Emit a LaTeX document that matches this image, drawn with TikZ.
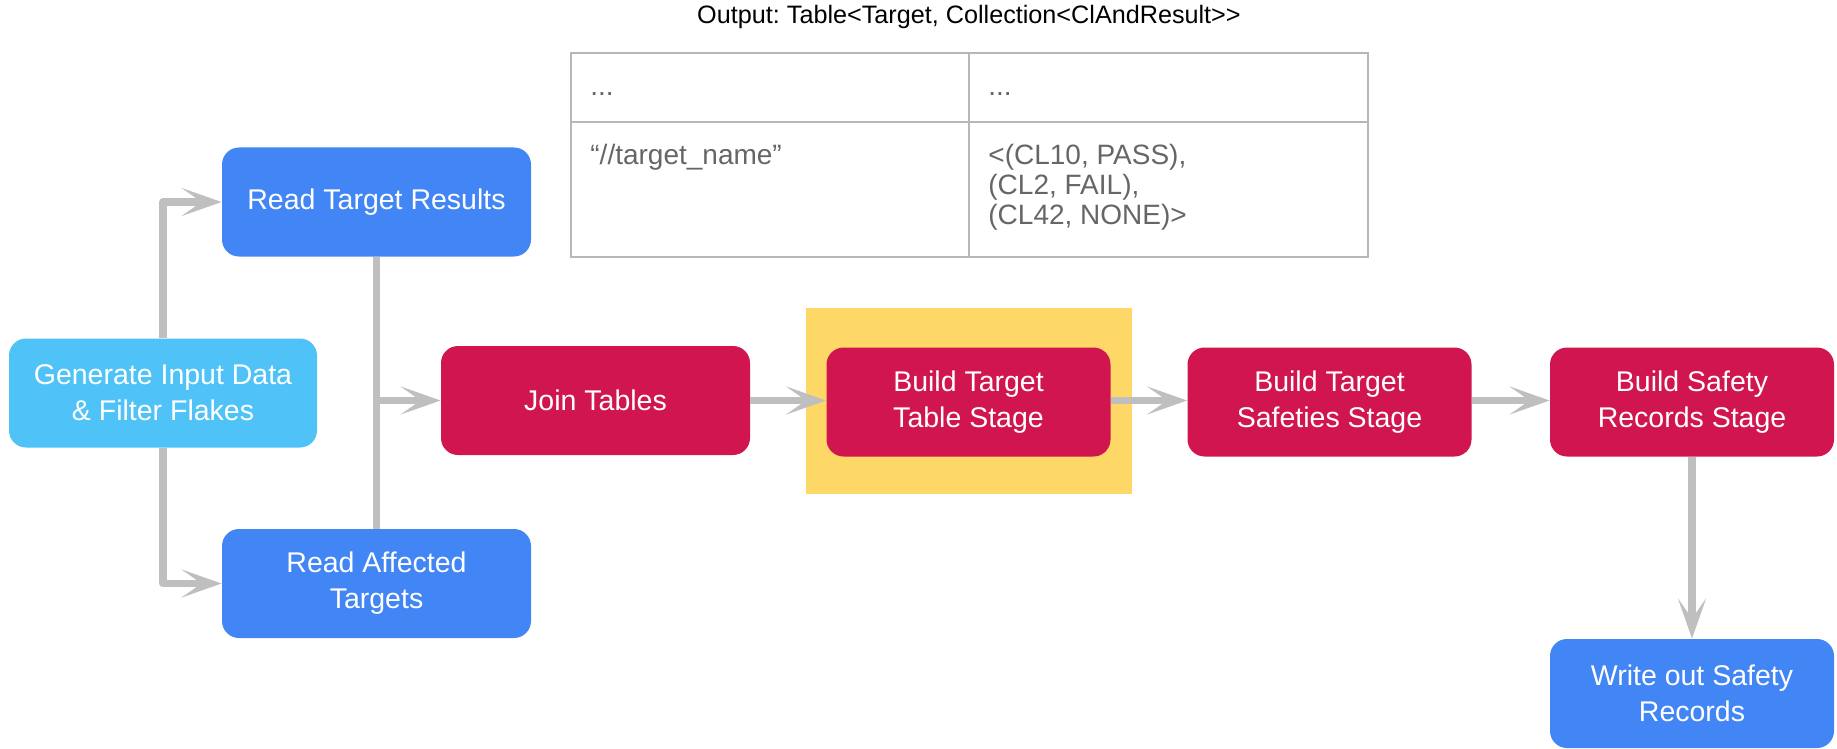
\documentclass[tikz,border=0pt]{standalone}
\usepackage{fontspec}
\setmainfont{Liberation Sans}
\usepackage{xcolor}
\usetikzlibrary{arrows.meta, positioning}

\definecolor{stageRed}{HTML}{D0154F}
\definecolor{ioBlue}{HTML}{4285F4}
\definecolor{genBlue}{HTML}{4FC3F7}
\definecolor{hiYellow}{HTML}{FDD866}
\definecolor{flowGrey}{HTML}{BFBFBF}
\definecolor{cellGrey}{HTML}{666666}
\definecolor{ruleGrey}{HTML}{B7B7B7}

\begin{document}
\begin{tikzpicture}[x=0.5pt, y=-0.5pt,
    box/.style={rounded corners=8.5pt, text=white, align=center, font=\fontsize{14.25}{18}\selectfont, minimum height=54.5pt, inner sep=0pt},
    stage/.style={box, fill=stageRed, minimum width=142pt},
    io/.style={box, fill=ioBlue, minimum width=154.5pt},
    pipe/.style={draw=flowGrey, line width=3.75pt, line join=round},
    flow/.style={pipe, -{Stealth[length=20pt, width=14pt, inset=10pt]}},
    cell/.style={anchor=base west, text=cellGrey, font=\fontsize{14}{15}\selectfont, inner sep=0pt}]
    \useasboundingbox (0,0) rectangle (1837,749);

    % Input side
    \node[box, fill=genBlue, minimum width=154pt] (gen) at (163,393) {Generate Input Data\\\& Filter Flakes};
    \node[io] (rtr) at (376.5,202) {Read Target Results};
    \node[io] (rat) at (376.5,583.5) {Read Affected\\Targets};

    % Highlight behind the current stage
    \fill[hiYellow] (806,308) rectangle (1132,494);

    % Pipeline stages
    \node[stage, minimum width=154.5pt] (join) at (595.5,400.5) {Join Tables};
    \node[stage] (table) at (968.5,402) {Build Target\\Table Stage};
    \node[stage] (safeties) at (1329.5,402) {Build Target\\Safeties Stage};
    \node[stage] (records) at (1692,402) {Build Safety\\Records Stage};
    \node[io, minimum width=142pt] (write) at (1692,693.5) {Write out Safety\\Records};

    % Connectors
    \draw[flow] (gen.north) |- (rtr.west);
    \draw[flow] (gen.south) |- (rat.west);
    \draw[pipe] (rtr.south) -- (rat.north);
    \coordinate (merge) at (rtr.south |- join.west);
    \draw[flow] (merge) -- (join.west);
    \draw[flow] (join) -- (join -| table.west);
    \draw[flow] (table.east |- join) -- (join -| safeties.west);
    \draw[flow] (safeties.east |- join) -- (join -| records.west);
    \draw[flow] (records) -- (write);

    % Output table
    \node[font=\fontsize{12.6}{14}\selectfont] (title) at (969,17) {\frenchspacing Output: Table<Target, Collection<ClAndResult>{}>};
    \draw[ruleGrey, line width=1pt] (571,53) rectangle (1368,257);
    \draw[ruleGrey, line width=1pt] (571,122) -- (1368,122);
    \draw[ruleGrey, line width=1pt] (969,53) -- (969,257);
    \node[cell] (c11) at (590,96) {...};
    \node[cell] (c12) at (988,96) {...};
    \node[cell] (c21) at (590,164) {“//target\_name”};
    \node[cell] (c22) at (988,164) {\begin{tabular}[t]{@{}l@{}}<(CL10, PASS),\\(CL2, FAIL),\\(CL42, NONE)>\end{tabular}};
\end{tikzpicture}
\end{document}
